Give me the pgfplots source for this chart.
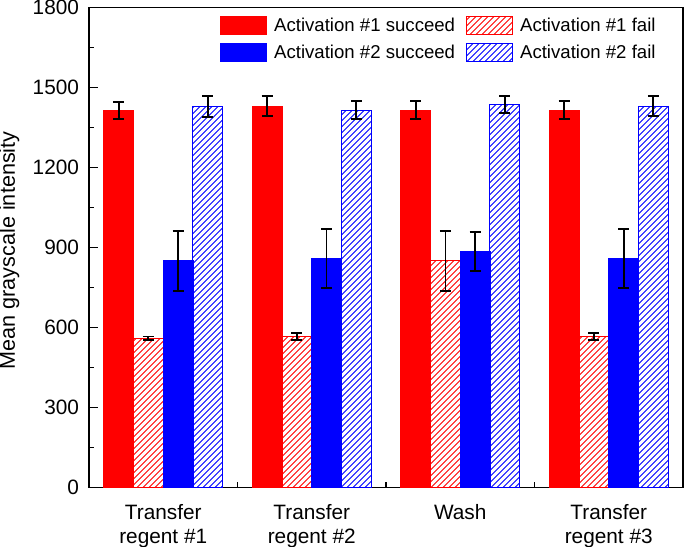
\documentclass[border=0pt]{standalone}
\usepackage{fontspec}
\setmainfont{Liberation Sans}
\usepackage{pgfplots}
\usepackage{pgfplotstable}
\pgfplotsset{compat=1.18}
\usetikzlibrary{patterns}

\pgfplotstableread{
x y e
0 1415 32
1 1430 38
2 1415 33
3 1415 33
}\sucA
\pgfplotstableread{
x y e
0 560 6
1 566 14
2 850 113
3 566 13
}\failA
\pgfplotstableread{
x y e
0 850 113
1 858 111
2 886 73
3 858 111
}\sucB
\pgfplotstableread{
x y e
0 1428 39
1 1415 33
2 1435 32
3 1430 38
}\failB

\pgfplotsset{
  myerr/.style={error bars/.cd, y dir=both, y explicit,
    error bar style={black, line width=0.9pt},
    error mark options={black, rotate=90, mark size=2.75pt, line width=0.9pt}},
}

\begin{document}
\begin{tikzpicture}
\begin{axis}[
  scale only axis,
  width=297pt, height=240pt,
  ybar,
  bar width=0.2,
  xmin=-0.5, xmax=3.5,
  ymin=0, ymax=1800,
  ytick={0,300,...,1800},
  minor y tick num=1,
  xtick={0,1,2,3},
  xticklabels={{Transfer\\regent \#1},{Transfer\\regent \#2},{Wash},{Transfer\\regent \#3}},
  minor xtick={0.5,1.5,2.5},
  major x tick style={draw=none},
  x tick label style={align=center, inner ysep=0pt, yshift=-8.5pt, font=\fontsize{10.4}{12}\selectfont},
  y tick label style={inner ysep=0pt, inner xsep=4.8pt, font=\fontsize{10.4}{12}\selectfont},
  /pgf/number format/assume math mode=true,
  /pgf/number format/1000 sep={},
  scaled y ticks=false,
  tick align=inside,
  xtick pos=bottom,
  ytick pos=left,
  major tick length=4.5pt,
  minor tick length=2.7pt,
  axis line style={line width=0.8pt},
  every tick/.style={black, line width=0.8pt},
  ylabel={Mean grayscale intensity},
  ylabel style={at={(axis description cs:-0.1246,0.494)}, anchor=base, rotate=0,
    inner sep=0pt, font=\fontsize{10.8}{13}\selectfont},
  legend columns=2,
  legend cell align=left,
  legend style={draw=none, fill=none, at={(0.2205,0.988)}, anchor=north west,
    inner sep=0pt, row sep=1.2pt, nodes={inner sep=2pt},
    font=\fontsize{9.3}{11.2}\selectfont,
    /tikz/every odd column/.append style={column sep=1.5pt},
    /tikz/every even column/.append style={column sep=3.5pt}},
  legend image code/.code={\draw[#1] (0pt,-4.5pt) rectangle (23pt,4.5pt);},
]
\addplot[fill=red, draw=red, line width=0.4pt, bar shift=-0.3, myerr]
  table[x=x, y=y, y error=e] {\sucA};
\addlegendentry{Activation \#1 succeed}
\addplot[fill=white, pattern=north east lines, pattern color=red, draw=red, line width=0.5pt, bar shift=-0.1, myerr]
  table[x=x, y=y, y error=e] {\failA};
\addlegendentry{Activation \#1 fail}
\addplot[fill=blue, draw=blue, line width=0.4pt, bar shift=0.1, myerr]
  table[x=x, y=y, y error=e] {\sucB};
\addlegendentry{Activation \#2 succeed}
\addplot[fill=white, pattern=north east lines, pattern color=blue, draw=blue, line width=0.5pt, bar shift=0.3, myerr]
  table[x=x, y=y, y error=e] {\failB};
\addlegendentry{Activation \#2 fail}
\end{axis}
\pgfresetboundingbox
\path[use as bounding box] ([xshift=-44.5pt,yshift=-29.5pt]current axis.south west) rectangle ([xshift=1pt,yshift=3.75pt]current axis.north east);
\end{tikzpicture}
\end{document}
